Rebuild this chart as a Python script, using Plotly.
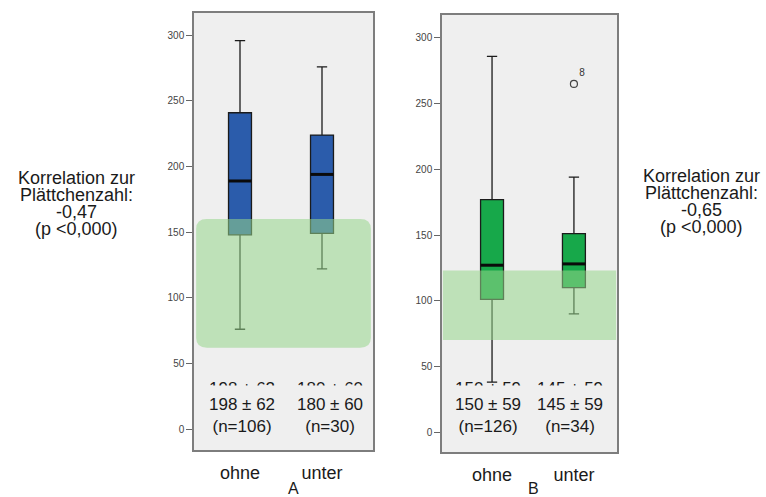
import plotly.graph_objects as go

W, H = 766, 497

categories = ["ohne", "unter"]
cat_pos = [0, 1]

# Panel A (blue)
a_upper = [296, 276]
a_q3 = [241, 224]
a_median = [189, 194]
a_q1 = [148, 149]
a_lower = [76, 122]
a_stats = ["198 ± 62<br>(n=106)", "180 ± 60<br>(n=30)"]
a_ghost = ["198 ± 62", "180 ± 60"]
a_band = [62, 160]
a_corr = ["Korrelation zur", "Plättchenzahl:", "-0,47", "(p <0,000)"]

# Panel B (green)
b_upper = [286, 194]
b_q3 = [177, 151]
b_median = [127, 128]
b_q1 = [101, 110]
b_lower = [38, 90]
b_stats = ["150 ± 59<br>(n=126)", "145 ± 59<br>(n=34)"]
b_ghost = ["150 ± 59", "145 ± 59"]
b_band = [70, 123]
b_outlier_x = [1]
b_outlier_y = [265]
b_outlier_label = ["8"]
b_corr = ["Korrelation zur", "Plättchenzahl:", "-0,65", "(p <0,000)"]

y_ticks = [0, 50, 100, 150, 200, 250, 300]
panel_labels = ["A", "B"]

FONT = "Liberation Sans, Arial, sans-serif"
BG = "#efefef"

def px_x(p):
    return p / W

def px_y(p):
    return 1 - p / H

fig = go.Figure()

def add_box(xaxis, yaxis, lower, q1, med, q3, upper, fill):
    fig.add_trace(go.Box(
        x=cat_pos, lowerfence=lower, q1=q1, median=med, q3=q3, upperfence=upper,
        xaxis=xaxis, yaxis=yaxis, width=0.28, whiskerwidth=0.45,
        fillcolor=fill, line=dict(color="#1b1b1b", width=1.3),
        boxpoints=False, showlegend=False, hoverinfo="skip"))
    for xp, m in zip(cat_pos, med):
        fig.add_trace(go.Scatter(
            x=[xp - 0.14, xp + 0.14], y=[m, m], mode="lines",
            line=dict(color="#0a0a0a", width=3), xaxis=xaxis, yaxis=yaxis,
            showlegend=False, hoverinfo="skip"))

add_box("x", "y", a_lower, a_q1, a_median, a_q3, a_upper, "#2b5cab")
add_box("x2", "y2", b_lower, b_q1, b_median, b_q3, b_upper, "#17a84a")

fig.add_trace(go.Scatter(
    x=b_outlier_x, y=b_outlier_y, mode="markers+text", text=b_outlier_label,
    textposition="top right", textfont=dict(size=10, color="#333", family=FONT),
    marker=dict(symbol="circle-open", size=7, color="#444", line=dict(width=1.2)),
    xaxis="x2", yaxis="y2", showlegend=False, hoverinfo="skip"))

axis_common = dict(showline=True, mirror=True, linecolor="#7d7d7d", linewidth=1.5,
                   showgrid=False, zeroline=False)

fig.update_layout(
    width=W, height=H, margin=dict(l=0, r=0, t=0, b=0),
    paper_bgcolor="white", plot_bgcolor=BG,
    xaxis=dict(domain=[px_x(194), px_x(373)], range=[-0.561, 1.622],
               tickvals=cat_pos, ticktext=categories, ticks="",
               tickfont=dict(size=18, color="#1a1a1a", family=FONT),
               ticklabelstandoff=6, anchor="y", **axis_common),
    yaxis=dict(domain=[px_y(450), px_y(13)], range=[-16, 317],
               tickvals=y_ticks, ticks="outside", ticklen=6, tickcolor="#666",
               tickfont=dict(size=10, color="#444", family=FONT),
               anchor="x", **axis_common),
    xaxis2=dict(domain=[px_x(442), px_x(617)], range=[-0.611, 1.526],
                tickvals=cat_pos, ticktext=categories, ticks="",
                tickfont=dict(size=18, color="#1a1a1a", family=FONT),
                ticklabelstandoff=6, anchor="y2", **axis_common),
    yaxis2=dict(domain=[px_y(452), px_y(15)], range=[-15.2, 317.5],
                tickvals=y_ticks, ticks="outside", ticklen=6, tickcolor="#666",
                tickfont=dict(size=10, color="#444", family=FONT),
                anchor="x2", **axis_common),
)

band_color = "rgba(150, 214, 138, 0.55)"

# Rounded band in panel A
x0, x1 = 0.012, 0.988
y0, y1 = a_band
rx, ry = 0.06, 7.6
path = (f"M {x0+rx},{y0} L {x1-rx},{y0} Q {x1},{y0} {x1},{y0+ry} "
        f"L {x1},{y1-ry} Q {x1},{y1} {x1-rx},{y1} L {x0+rx},{y1} "
        f"Q {x0},{y1} {x0},{y1-ry} L {x0},{y0+ry} Q {x0},{y0} {x0+rx},{y0} Z")
fig.add_shape(type="path", path=path, xref="x domain", yref="y",
              fillcolor=band_color, line=dict(width=0), layer="above")
fig.add_shape(type="rect", x0=0.005, x1=0.995, y0=b_band[0], y1=b_band[1],
              xref="x2 domain", yref="y2", fillcolor=band_color,
              line=dict(width=0), layer="above")

# Ghost (clipped) stats text, then the real stats text covering its lower half
stat_font = dict(size=17, color="#1a1a1a", family=FONT)
for xref, ghosts, shifts in [("x", a_ghost, [2, 8]), ("x2", b_ghost, [-4, -4])]:
    for xp, g, sh in zip(cat_pos, ghosts, shifts):
        fig.add_annotation(x=xp, y=px_y(388), xref=xref, yref="paper", text=g,
                           showarrow=False, font=stat_font, xshift=sh,
                           yanchor="middle")
for xref, stats, shifts in [("x", a_stats, [2, 8]), ("x2", b_stats, [-4, -4])]:
    for xp, s, sh in zip(cat_pos, stats, shifts):
        fig.add_annotation(x=xp, y=px_y(415), xref=xref, yref="paper", text=s,
                           showarrow=False, font=stat_font, xshift=sh,
                           yanchor="middle", bgcolor=BG, borderpad=9)

# Correlation texts
corr_font = dict(size=18, color="#1a1a1a", family=FONT)
for lines, xc, ys in [(a_corr, 76, [178, 195, 212, 229]),
                      (b_corr, 701, [176, 193, 210, 227])]:
    for t, yy in zip(lines, ys):
        fig.add_annotation(x=px_x(xc), y=px_y(yy), xref="paper", yref="paper",
                           text=t, showarrow=False, font=corr_font,
                           xanchor="center", yanchor="middle")

# Panel letters
for lab, xc in zip(panel_labels, [293, 533]):
    fig.add_annotation(x=px_x(xc), y=px_y(488), xref="paper", yref="paper",
                       text=lab, showarrow=False,
                       font=dict(size=16, color="#1a1a1a", family=FONT),
                       xanchor="center", yanchor="middle")

fig.write_html("out.html")
